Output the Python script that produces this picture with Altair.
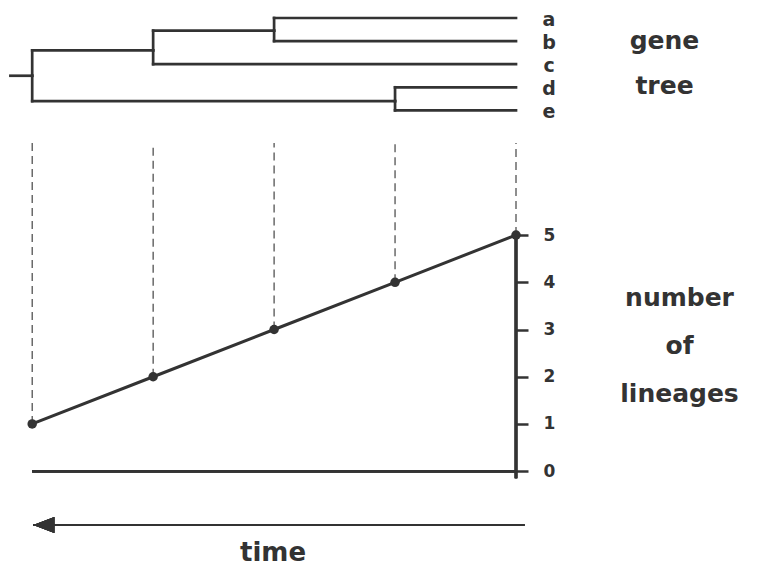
import altair as alt
import pandas as pd

# ---------------- data ----------------
# gene tree: nodes, their time (0 = present, larger = older) and vertical row
node_names = ["a", "b", "c", "d", "e", "ab", "abc", "de", "root"]
node_time = [0, 0, 0, 0, 0, 2, 3, 1, 4]
node_row = [1, 2, 3, 4, 5, 1.55, 2.4, 4.6, 3.5]
node_parent = ["ab", "ab", "abc", "de", "de", "abc", "root", "root", ""]
stub_start = 4.18

# number of lineages through time
lineage_time = [4, 3, 2, 1, 0]
lineage_count = [1, 2, 3, 4, 5]
y_ticks = [0, 1, 2, 3, 4, 5]

# time arrow
arrow_y = -1.14
arrow_tip = 3.99
arrow_end = -0.07
axis_bottom = -0.15

INK = "#333333"
FONT = "DejaVu Sans"

# ---------------- build tables ----------------
idx = {n: i for i, n in enumerate(node_names)}
segs = []
for i, n in enumerate(node_names):
    p = node_parent[i]
    if p:
        j = idx[p]
        segs.append(dict(x=node_time[j], x2=node_time[i], y=node_row[i], y2=node_row[i]))
        segs.append(dict(x=node_time[j], x2=node_time[j], y=node_row[j], y2=node_row[i]))
    else:
        segs.append(dict(x=stub_start, x2=node_time[i], y=node_row[i], y2=node_row[i]))
seg_df = pd.DataFrame(segs)

tips_df = pd.DataFrame({
    "time": node_time[:5],
    "row": node_row[:5],
    "label": node_names[:5],
})

lin_df = pd.DataFrame({"time": lineage_time, "count": lineage_count})

W = 508
H_TREE = 132
H_LIN = 399

x_scale = alt.Scale(domain=[0, 4.2], reverse=True, nice=False, zero=False)

# ---------------- gene tree panel ----------------
tree_y_scale = alt.Scale(domain=[0.654, 6.368], reverse=True, nice=False, zero=False)
tree_y_axis = alt.Axis(
    orient="right", domain=False, ticks=False, labels=False, grid=False,
    title=["gene", "tree"], titleAngle=0, titleAlign="center",
    titleBaseline="alphabetic", titleX=148, titleY=38, titleLineHeight=45,
    titleFont=FONT, titleFontSize=25, titleFontWeight="bold", titleColor=INK,
)

tree_lines = alt.Chart(seg_df).mark_rule(
    color=INK, strokeWidth=2.7, strokeCap="square"
).encode(
    x=alt.X("x:Q", scale=x_scale, axis=None),
    x2="x2:Q",
    y=alt.Y("y:Q", scale=tree_y_scale, axis=tree_y_axis),
    y2="y2:Q",
)

tip_text = alt.Chart(tips_df).mark_text(
    align="center", baseline="middle", dx=33, dy=2,
    font=FONT, fontSize=19, fontWeight="bold", color=INK,
).encode(
    x=alt.X("time:Q", scale=x_scale, axis=None),
    y=alt.Y("row:Q", scale=tree_y_scale, axis=tree_y_axis),
    text="label:N",
)

tree = alt.layer(tree_lines, tip_text).properties(width=W, height=H_TREE)

# ---------------- lineages panel ----------------
lin_y_scale = alt.Scale(domain=[-1.5, 6.95], nice=False, zero=False)
lin_y_axis = alt.Axis(
    orient="right", values=y_ticks, domain=False, grid=False,
    tickSize=12, tickWidth=2.5, tickColor=INK,
    labelFont=FONT, labelFontSize=17, labelFontWeight="bold", labelColor=INK,
    labelPadding=15, labelAlign="left", labelBaseline="middle",
    title=["number", "of", "lineages"], titleAngle=0, titleAlign="center",
    titleBaseline="alphabetic", titleX=163, titleY=162, titleLineHeight=48,
    titleFont=FONT, titleFontSize=25, titleFontWeight="bold", titleColor=INK,
)
lin_x_axis = alt.Axis(
    orient="bottom", domain=False, ticks=False, labels=False, grid=False,
    title="time", titleFont=FONT, titleFontSize=26, titleFontWeight="bold",
    titleColor=INK, titleBaseline="alphabetic", titleX=264.5, titleY=18,
)

def xf(field):
    return alt.X(field, scale=x_scale, axis=lin_x_axis)

def yf(field):
    return alt.Y(field, scale=lin_y_scale, axis=lin_y_axis)

dashes = alt.Chart(lin_df).mark_rule(
    color="#444444", strokeWidth=1.2, strokeDash=[8, 5]
).encode(x=xf("time:Q"), y=yf("count:Q"), y2=alt.value(0))

line = alt.Chart(lin_df).mark_line(color=INK, strokeWidth=3).encode(
    x=xf("time:Q"), y=yf("count:Q")
)

dots = alt.Chart(lin_df).mark_circle(color=INK, size=90, opacity=1).encode(
    x=xf("time:Q"), y=yf("count:Q")
)

zero_line = alt.Chart(lin_df).mark_rule(color=INK, strokeWidth=2.5).encode(
    x=alt.XDatum(max(lineage_time), scale=x_scale, axis=lin_x_axis),
    x2=alt.X2Datum(0),
    y=alt.YDatum(0, scale=lin_y_scale, axis=lin_y_axis),
)

y_axis_line = alt.Chart(lin_df).mark_rule(color=INK, strokeWidth=2.6).encode(
    x=alt.XDatum(0, scale=x_scale, axis=lin_x_axis),
    y=alt.YDatum(axis_bottom, scale=lin_y_scale, axis=lin_y_axis),
    y2=alt.Y2Datum(max(y_ticks)),
)

arrow_line = alt.Chart(lin_df).mark_rule(color=INK, strokeWidth=2).encode(
    x=alt.XDatum(arrow_tip, scale=x_scale, axis=lin_x_axis),
    x2=alt.X2Datum(arrow_end),
    y=alt.YDatum(arrow_y, scale=lin_y_scale, axis=lin_y_axis),
)

arrow_head = alt.Chart(lin_df).mark_point(
    shape="M0,0L2,-0.76L2,0.76Z", filled=True, size=441, opacity=1, color=INK
).encode(
    x=alt.XDatum(arrow_tip, scale=x_scale, axis=lin_x_axis),
    y=alt.YDatum(arrow_y, scale=lin_y_scale, axis=lin_y_axis),
)

lineages = alt.layer(
    dashes, zero_line, y_axis_line, line, dots, arrow_line, arrow_head
).properties(width=W, height=H_LIN)

chart = alt.vconcat(tree, lineages, spacing=0).properties(
    padding={"left": 0, "top": 2, "right": 0, "bottom": 0},
    background="white",
).configure_view(strokeWidth=0)

chart.save("out.html", embed_options={"renderer": "svg", "actions": False})
